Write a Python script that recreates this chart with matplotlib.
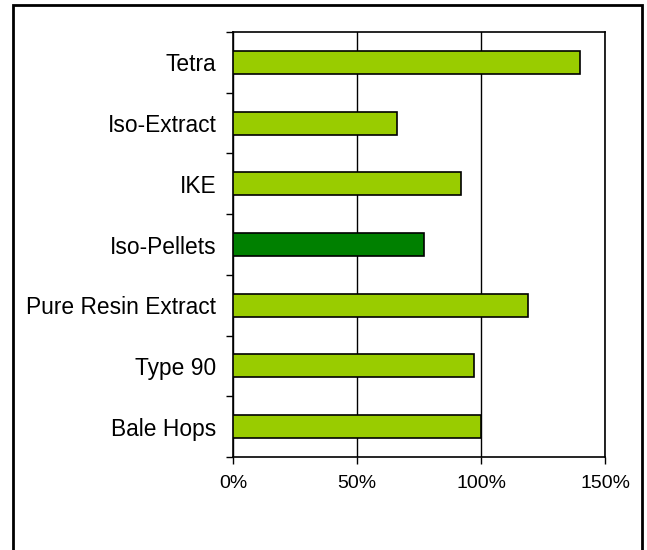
import matplotlib
matplotlib.use("Agg")
import matplotlib.pyplot as plt
from matplotlib.patches import Rectangle
from matplotlib.ticker import FixedLocator, PercentFormatter

plt.rcParams['font.family'] = ['Liberation Sans', 'DejaVu Sans']

# categories listed bottom to top
categories = ["Bale Hops", "Type 90", "Pure Resin Extract", "Iso-Pellets",
              "IKE", "Iso-Extract", "Tetra"]
values = [100, 97, 119, 77, 92, 66, 140]
highlight = "Iso-Pellets"

light_green = "#99CC00"
dark_green = "#008000"
colors = [dark_green if c == highlight else light_green for c in categories]

fig = plt.figure(figsize=(6.47, 5.5), dpi=100)

# outer chart frame
fig.patches.append(Rectangle((13 / 647, -0.02), 629 / 647, 1.02 - 5 / 550,
                             transform=fig.transFigure, fill=False,
                             edgecolor="black", linewidth=2))

ax = fig.add_axes([233 / 647, 1 - 457 / 550, 372 / 647, 425 / 550])

pos = list(range(len(categories)))
ax.barh(pos, values, height=0.38, color=colors, edgecolor="black",
        linewidth=1.2, zorder=3)

ax.set_xlim(0, 150)
ax.set_ylim(-0.5, len(categories) - 0.5)
ax.xaxis.set_major_locator(FixedLocator([0, 50, 100, 150]))
ax.xaxis.set_major_formatter(PercentFormatter(decimals=0))
ax.grid(axis="x", color="black", linewidth=1, zorder=1)

# category labels in the middle, tick marks at the boundaries
ax.set_yticks(pos)
ax.set_yticklabels(categories, fontsize=16.4)
ax.tick_params(axis="y", which="major", length=0, pad=12)
ax.set_yticks([p - 0.5 for p in pos] + [len(categories) - 0.5], minor=True)
ax.tick_params(axis="y", which="minor", length=5, width=1, direction="out")
ax.tick_params(axis="x", length=5, width=1, direction="out", labelsize=14, pad=8)

for s in ax.spines.values():
    s.set_linewidth(1.2)
    s.set_color("black")

fig.savefig("out.png", dpi=100)
